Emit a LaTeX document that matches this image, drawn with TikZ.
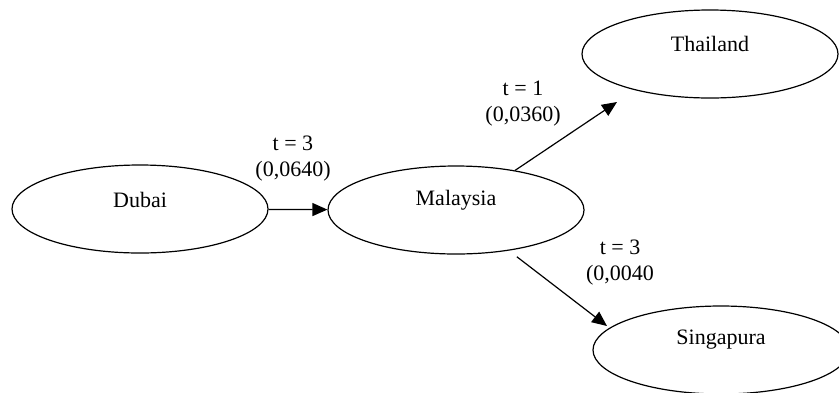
\documentclass[tikz,border=0pt]{standalone}
\usepackage{fontspec}
\setmainfont{Liberation Serif}
\usetikzlibrary{shapes.geometric,arrows.meta}
\begin{document}
\begin{tikzpicture}[x=0.5pt,y=-0.5pt,
  place/.style={draw=black,line width=0.6pt,ellipse,minimum width=128pt,minimum height=44pt,inner sep=0pt},
  txt/.style={font=\fontsize{11}{13}\selectfont,inner sep=0pt,align=center},
  arr/.style={line width=0.6pt,-{Triangle[length=7.5pt,width=6.5pt]}}]
\useasboundingbox (0,0) rectangle (839,392);
\node[place] (dub) at (140,209) {};
\node[txt] (dubt) at (140,200) {Dubai};
\node[place] (mal) at (456,210) {};
\node[txt] (malt) at (456,200) {Malaysia};
\node[place] (tha) at (710,54) {};
\node[txt] (that) at (710,44) {Thailand};
\node[place] (sin) at (721,350) {};
\node[txt] (sint) at (721,340) {Singapura};
\coordinate (tT) at (617,102);
\coordinate (tS) at (607,326);
\draw[arr] (dub) -- (mal);
\draw[arr] (mal) -- (tT);
\draw[arr,shorten <=5pt] (mal) -- (tS);
\node[txt] (l1) at (293,159) {t = 3\\(0,0640)};
\node[txt] (l2) at (523,104) {t = 1\\(0,0360)};
\node[txt] (l3) at (620,263) {t = 3\\(0,0040};
\end{tikzpicture}
\end{document}
